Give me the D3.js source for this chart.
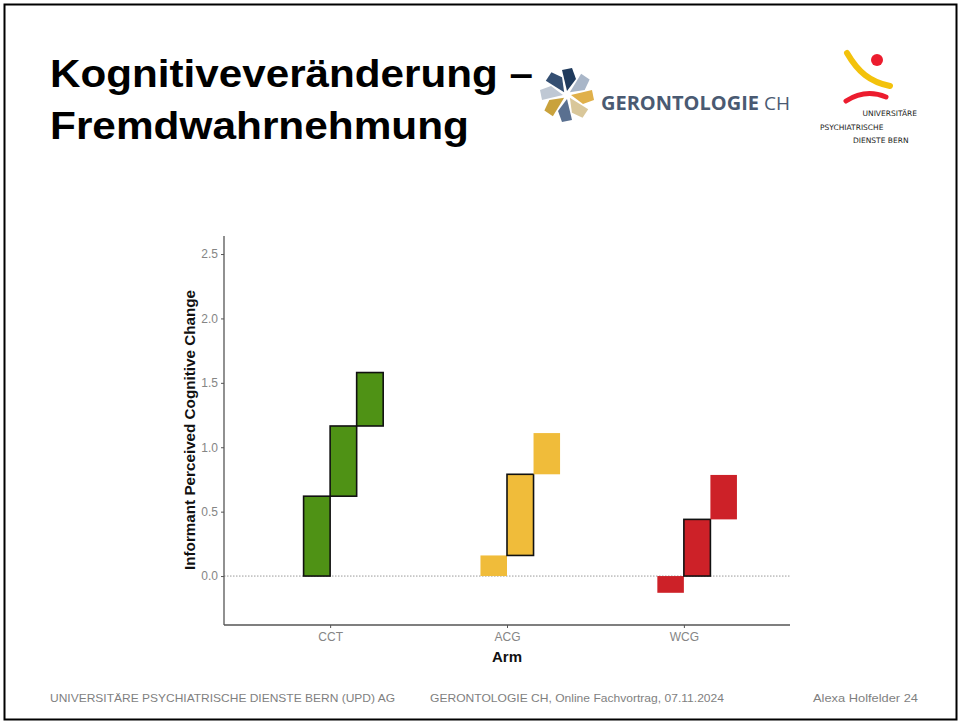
<!DOCTYPE html>
<html>
<head>
<meta charset="utf-8">
<script src="https://cdn.jsdelivr.net/npm/d3@7"></script>
<style>
  body { margin: 0; background: #fff; }
  svg { display: block; font-family: "Liberation Sans", Arial, sans-serif; }
</style>
</head>
<body>
<div class="slide"></div>
<script>
// chart data
var arms = ["CCT", "ACG", "WCG"];
var segStart = [[0, 0.62, 1.165], [0, 0.16, 0.79], [0, 0, 0.44]];
var segEnd = [[0.62, 1.165, 1.58], [0.16, 0.79, 1.11], [-0.13, 0.44, 0.785]];
var segOutlined = [[1, 1, 1], [0, 1, 0], [0, 1, 0]];
var armColors = ["#4f9215", "#f0bc3a", "#cd2128"];
var yTicks = [0, 0.5, 1, 1.5, 2, 2.5];
var footerTexts = ["UNIVERSITÄRE PSYCHIATRISCHE DIENSTE BERN (UPD) AG",
    "GERONTOLOGIE CH, Online Fachvortrag, 07.11.2024",
    "Alexa Holfelder  24"];

var W = 960, H = 721;
var svg = d3.select(".slide").append("svg")
    .attr("width", W)
    .attr("height", H);

// slide frame
svg.append("rect")
    .attr("x", 4.5).attr("y", 4.5)
    .attr("width", 952).attr("height", 715)
    .attr("fill", "none")
    .attr("stroke", "#000")
    .attr("stroke-width", 2);

// title
var title = svg.append("g")
    .attr("font-size", 39)
    .attr("font-weight", "bold")
    .attr("fill", "#000");
title.append("text").attr("x", 50).attr("y", 87)
    .attr("textLength", 483).attr("lengthAdjust", "spacingAndGlyphs")
    .text("Kognitiveveränderung –");
title.append("text").attr("x", 50).attr("y", 139)
    .attr("textLength", 419).attr("lengthAdjust", "spacingAndGlyphs")
    .text("Fremdwahrnehmung");

// GERONTOLOGIE CH logo (rough)
var petalColors = ["#1f3a5c", "#a9b6c8", "#e0b04a", "#d9c79a", "#5a7090", "#c9a23c", "#bfc8d4", "#344f72"];
var logo = svg.append("g").attr("transform", "translate(567,95)");
petalColors.forEach(function (c, i) {
    logo.append("path")
        .attr("d", "M0,-4 L9,-16 L5,-27 L-5,-25 Z")
        .attr("fill", c)
        .attr("transform", "rotate(" + (i * 45) + ")");
});
svg.append("text")
    .attr("x", 601).attr("y", 110)
    .attr("font-size", 19)
    .attr("fill", "#4a5a72")
    .attr("font-family", "'Open Sans', sans-serif")
    .attr("font-weight", "bold")
    .attr("textLength", 158).attr("lengthAdjust", "spacingAndGlyphs")
    .text("GERONTOLOGIE");
svg.append("text")
    .attr("x", 764).attr("y", 110)
    .attr("font-size", 18)
    .attr("fill", "#4a5a72")
    .attr("font-family", "'Open Sans', sans-serif")
    .attr("textLength", 26).attr("lengthAdjust", "spacingAndGlyphs")
    .text("CH");

// UPD logo (rough)
svg.append("path")
    .attr("d", "M847,53 C858,72 870,82 890,86")
    .attr("fill", "none").attr("stroke", "#f3c20c")
    .attr("stroke-width", 6).attr("stroke-linecap", "round");
svg.append("circle").attr("cx", 877).attr("cy", 60).attr("r", 6).attr("fill", "#ec1c2e");
svg.append("path")
    .attr("d", "M846,101 C860,92 874,92 886,97")
    .attr("fill", "none").attr("stroke", "#ec1c2e")
    .attr("stroke-width", 5).attr("stroke-linecap", "round");
var updText = svg.append("g")
    .attr("font-size", 7.5)
    .attr("font-family", "'DejaVu Sans', sans-serif")
    .attr("fill", "#222");
updText.append("text").attr("x", 917).attr("y", 116).attr("text-anchor", "end").text("UNIVERSITÄRE");
updText.append("text").attr("x", 820).attr("y", 130).text("PSYCHIATRISCHE");
updText.append("text").attr("x", 853).attr("y", 143).text("DIENSTE BERN");

// chart area
var plotLeft = 224, plotRight = 790, plotTop = 236, plotBottom = 625;

var x = d3.scalePoint()
    .domain(arms)
    .range([plotLeft, plotRight])
    .padding(0.6);

var y = d3.scaleLinear()
    .domain([-0.38, 2.64])
    .range([plotBottom, plotTop]);

var barW = x.step() * 0.15;

// zero reference line
svg.append("line")
    .attr("x1", plotLeft).attr("x2", plotRight)
    .attr("y1", y(0)).attr("y2", y(0))
    .attr("stroke", "#9a9a9a")
    .attr("stroke-width", 1)
    .attr("stroke-dasharray", "1.5,1.5");

// bars
arms.forEach(function (arm, a) {
    segStart[a].forEach(function (s, i) {
        var e = segEnd[a][i];
        svg.append("rect")
            .attr("x", x(arm) + (i - 1) * barW)
            .attr("y", y(Math.max(s, e)))
            .attr("width", barW)
            .attr("height", Math.abs(y(s) - y(e)))
            .attr("fill", armColors[a])
            .attr("stroke", segOutlined[a][i] ? "#111" : "none")
            .attr("stroke-width", 1.6);
    });
});

// axes
var yAxis = svg.append("g")
    .attr("transform", "translate(" + plotLeft + ",0)")
    .call(d3.axisLeft(y).tickValues(yTicks).tickSize(3).tickPadding(3)
        .tickFormat(d3.format(".1f")));
var xAxis = svg.append("g")
    .attr("transform", "translate(0," + plotBottom + ")")
    .call(d3.axisBottom(x).tickSize(3).tickPadding(4));

[xAxis, yAxis].forEach(function (g) {
    g.select(".domain").attr("stroke", "#555").attr("stroke-width", 1.3);
    g.selectAll(".tick line").attr("stroke", "#555");
    g.selectAll(".tick text")
        .attr("fill", "#858585")
        .attr("font-size", 12)
        .attr("font-family", "'Liberation Sans', Arial, sans-serif");
});
yAxis.select(".domain").attr("d", "M0," + plotTop + "V" + plotBottom);
xAxis.select(".domain").attr("d", "M" + plotLeft + ",0H" + plotRight);

// axis titles
svg.append("text")
    .attr("transform", "translate(195," + 430 + ") rotate(-90)")
    .attr("text-anchor", "middle")
    .attr("font-size", 14.5)
    .attr("font-weight", "bold")
    .attr("fill", "#111")
    .attr("textLength", 280).attr("lengthAdjust", "spacingAndGlyphs")
    .text("Informant Perceived Cognitive Change");
svg.append("text")
    .attr("x", x("ACG")).attr("y", 662)
    .attr("text-anchor", "middle")
    .attr("font-size", 15)
    .attr("font-weight", "bold")
    .attr("fill", "#111")
    .text("Arm");

// footer
var footerX = [[50, 395], [430, 724], [813, 918]];
footerTexts.forEach(function (t, i) {
    svg.append("text")
        .attr("x", footerX[i][0]).attr("y", 702)
        .attr("font-size", 11)
        .attr("font-family", "'Liberation Sans Narrow', 'Liberation Sans', Arial, sans-serif")
        .attr("fill", "#7f7f7f")
        .attr("textLength", footerX[i][1] - footerX[i][0])
        .attr("lengthAdjust", "spacingAndGlyphs")
        .text(t);
});
</script>
</body>
</html>
